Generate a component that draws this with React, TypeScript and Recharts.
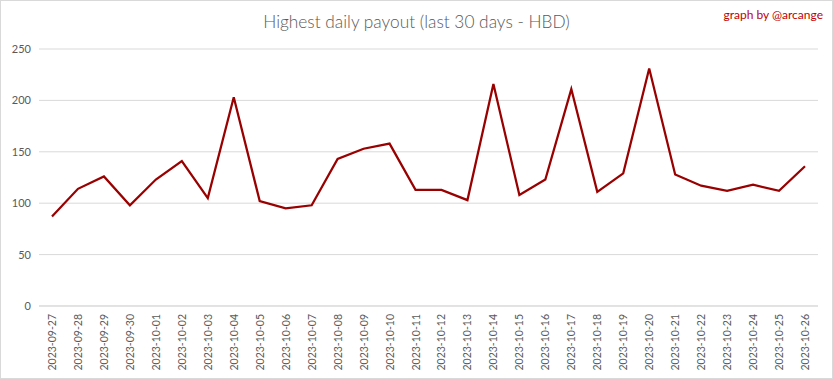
import { LineChart, Line, XAxis, YAxis, CartesianGrid } from "recharts";

const days = [
  "2023-09-27", "2023-09-28", "2023-09-29", "2023-09-30", "2023-10-01",
  "2023-10-02", "2023-10-03", "2023-10-04", "2023-10-05", "2023-10-06",
  "2023-10-07", "2023-10-08", "2023-10-09", "2023-10-10", "2023-10-11",
  "2023-10-12", "2023-10-13", "2023-10-14", "2023-10-15", "2023-10-16",
  "2023-10-17", "2023-10-18", "2023-10-19", "2023-10-20", "2023-10-21",
  "2023-10-22", "2023-10-23", "2023-10-24", "2023-10-25", "2023-10-26",
];

const payouts = [
  87, 114, 126, 98, 123, 141, 105, 203, 102, 95,
  98, 143, 153, 158, 113, 113, 103, 216, 108, 123,
  211, 111, 129, 231, 128, 117, 112, 118, 112, 136,
];

const yTicks = [0, 50, 100, 150, 200, 250];

const data = days.map((day, i) => ({ day, payout: payouts[i] }));

const FONT = "Lato, 'Liberation Sans', sans-serif";

const DateTick = ({ x, y, payload }: any) => (
  <g transform={`translate(${x},${y})`}>
    <text
      transform="rotate(-90)"
      textAnchor="end"
      dy={4}
      fill="#595959"
      fontSize={10.5}
      fontFamily={FONT}
    >
      {payload.value}
    </text>
  </g>
);

export default function App() {
  return (
    <div
      style={{
        position: "absolute",
        top: 0,
        left: 0,
        width: 833,
        height: 379,
        boxSizing: "border-box",
        border: "1px solid #d9d9d9",
        background: "#fff",
      }}
    >
      <div
        style={{
          position: "absolute",
          top: 10,
          left: 0,
          width: 831,
          textAlign: "center",
          fontFamily: FONT,
          fontWeight: 300,
          fontSize: 17.3,
          color: "#595959",
        }}
      >
        Highest daily payout (last 30 days - HBD)
      </div>
      <div
        style={{
          position: "absolute",
          top: 6,
          right: 9,
          fontFamily: FONT,
          fontSize: 12,
          color: "#c00000",
        }}
      >
        graph by @arcange
      </div>
      <LineChart
        width={831}
        height={377}
        data={data}
        margin={{ top: 48, right: 14, left: 0, bottom: 0 }}
      >
        <CartesianGrid vertical={false} stroke="#d9d9d9" />
        <XAxis
          dataKey="day"
          interval={0}
          height={72}
          padding={{ left: 13, right: 13 }}
          tickLine={false}
          axisLine={{ stroke: "#d9d9d9" }}
          tick={<DateTick />}
        />
        <YAxis
          width={38}
          domain={[0, 250]}
          ticks={yTicks}
          axisLine={false}
          tickLine={false}
          tick={{ fill: "#595959", fontSize: 11, fontFamily: FONT }}
        />
        <Line
          type="linear"
          dataKey="payout"
          stroke="#990000"
          strokeWidth={2.25}
          dot={false}
          isAnimationActive={false}
        />
      </LineChart>
    </div>
  );
}
